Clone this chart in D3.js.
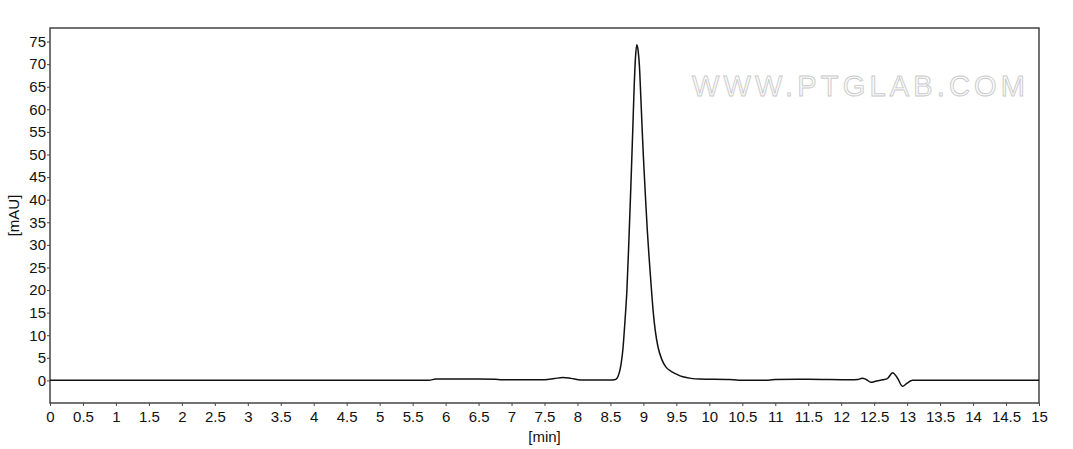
<!DOCTYPE html>
<html>
<head>
<meta charset="utf-8">
<script src="https://cdn.jsdelivr.net/npm/d3@7"></script>
<style>
  html, body { margin: 0; padding: 0; background: #fff; }
  svg { display: block; font-family: "Liberation Sans", Arial, sans-serif; }
</style>
</head>
<body>
<svg id="chart" width="1073" height="449"></svg>
<script>
// retention time (min) and absorbance (mAU)
const times = [0, 5.75, 5.85, 6.0, 6.5, 6.75, 6.85, 7.5, 7.65, 7.78, 7.9, 8.05, 8.5,
  8.56, 8.60, 8.63, 8.66, 8.69, 8.72, 8.75, 8.78, 8.81, 8.84, 8.86, 8.88, 8.90, 8.92,
  8.94, 8.96, 8.98, 9.00, 9.03, 9.06, 9.09, 9.12, 9.15, 9.18, 9.22, 9.28, 9.34, 9.42,
  9.50, 9.60, 9.72, 9.85, 10.3, 10.45, 10.9, 11.0, 11.5, 12.15, 12.25, 12.32, 12.38,
  12.45, 12.52, 12.63, 12.70, 12.78, 12.85, 12.93, 13.0, 13.08, 15];
const absorbance = [0.05, 0.05, 0.3, 0.3, 0.3, 0.25, 0.15, 0.15, 0.4, 0.65, 0.45, 0.1, 0.1,
  0.15, 0.5, 1.5, 3.5, 7, 13, 20, 31, 43, 56, 65, 71.5, 74.3, 73,
  69.5, 63, 56, 49.5, 41, 33, 26.5, 20.5, 15, 11, 7.5, 4.6, 3.0, 2.0,
  1.4, 0.8, 0.45, 0.3, 0.2, 0.05, 0.05, 0.2, 0.25, 0.15, 0.2, 0.5, 0.2,
  -0.4, -0.2, 0.15, 0.4, 1.7, 0.6, -1.3, -0.6, 0.05, 0.05];

const xTicks = d3.range(0, 15.01, 0.5);
const yTicks = d3.range(0, 75.01, 5);

const svg = d3.select("#chart");
const margin = { top: 28, right: 34, bottom: 46, left: 50 };
const width = 1073, height = 449;

const x = d3.scaleLinear().domain([0, 15]).range([margin.left, width - margin.right]);
const y = d3.scaleLinear().domain([-5, 78]).range([height - margin.bottom, margin.top]);

// watermark
svg.append("text")
  .attr("x", 692)
  .attr("y", 96)
  .attr("textLength", 333)
  .attr("lengthAdjust", "spacing")
  .attr("font-size", 29)
  .attr("fill", "#fbfbfb")
  .attr("stroke", "#cacaca")
  .attr("stroke-width", 0.9)
  .text("WWW.PTGLAB.COM");

// frame
svg.append("rect")
  .attr("x", x(0))
  .attr("y", y(78))
  .attr("width", x(15) - x(0))
  .attr("height", y(-5) - y(78))
  .attr("fill", "none")
  .attr("stroke", "#444")
  .attr("stroke-width", 1.5);

const xAxis = svg.append("g")
  .attr("transform", `translate(0, ${y(-5)})`)
  .call(d3.axisBottom(x).tickValues(xTicks).tickSize(3).tickPadding(5)
    .tickFormat((d) => d3.format("~g")(d)));

const yAxis = svg.append("g")
  .attr("transform", `translate(${x(0)}, 0)`)
  .call(d3.axisLeft(y).tickValues(yTicks).tickSize(3).tickPadding(1));

[xAxis, yAxis].forEach((g) => {
  g.select(".domain").remove();
  g.selectAll(".tick line").attr("stroke", "#444");
  g.selectAll(".tick text")
    .attr("fill", "#111")
    .attr("font-size", 15)
    .attr("font-family", "'Liberation Sans', Arial, sans-serif");
});

const line = d3.line()
  .x((d, i) => x(times[i]))
  .y((d) => y(d))
  .curve(d3.curveMonotoneX);

svg.append("path")
  .datum(absorbance)
  .attr("d", line)
  .attr("fill", "none")
  .attr("stroke", "#111")
  .attr("stroke-width", 1.5)
  .attr("stroke-linejoin", "round");

svg.append("text")
  .attr("x", x(7.5))
  .attr("y", 442)
  .attr("text-anchor", "middle")
  .attr("font-size", 15)
  .attr("fill", "#111")
  .text("[min]");

svg.append("text")
  .attr("transform", `translate(19, ${(y(-5) + y(78)) / 2}) rotate(-90)`)
  .attr("text-anchor", "middle")
  .attr("font-size", 15)
  .attr("fill", "#111")
  .text("[mAU]");
</script>
</body>
</html>
